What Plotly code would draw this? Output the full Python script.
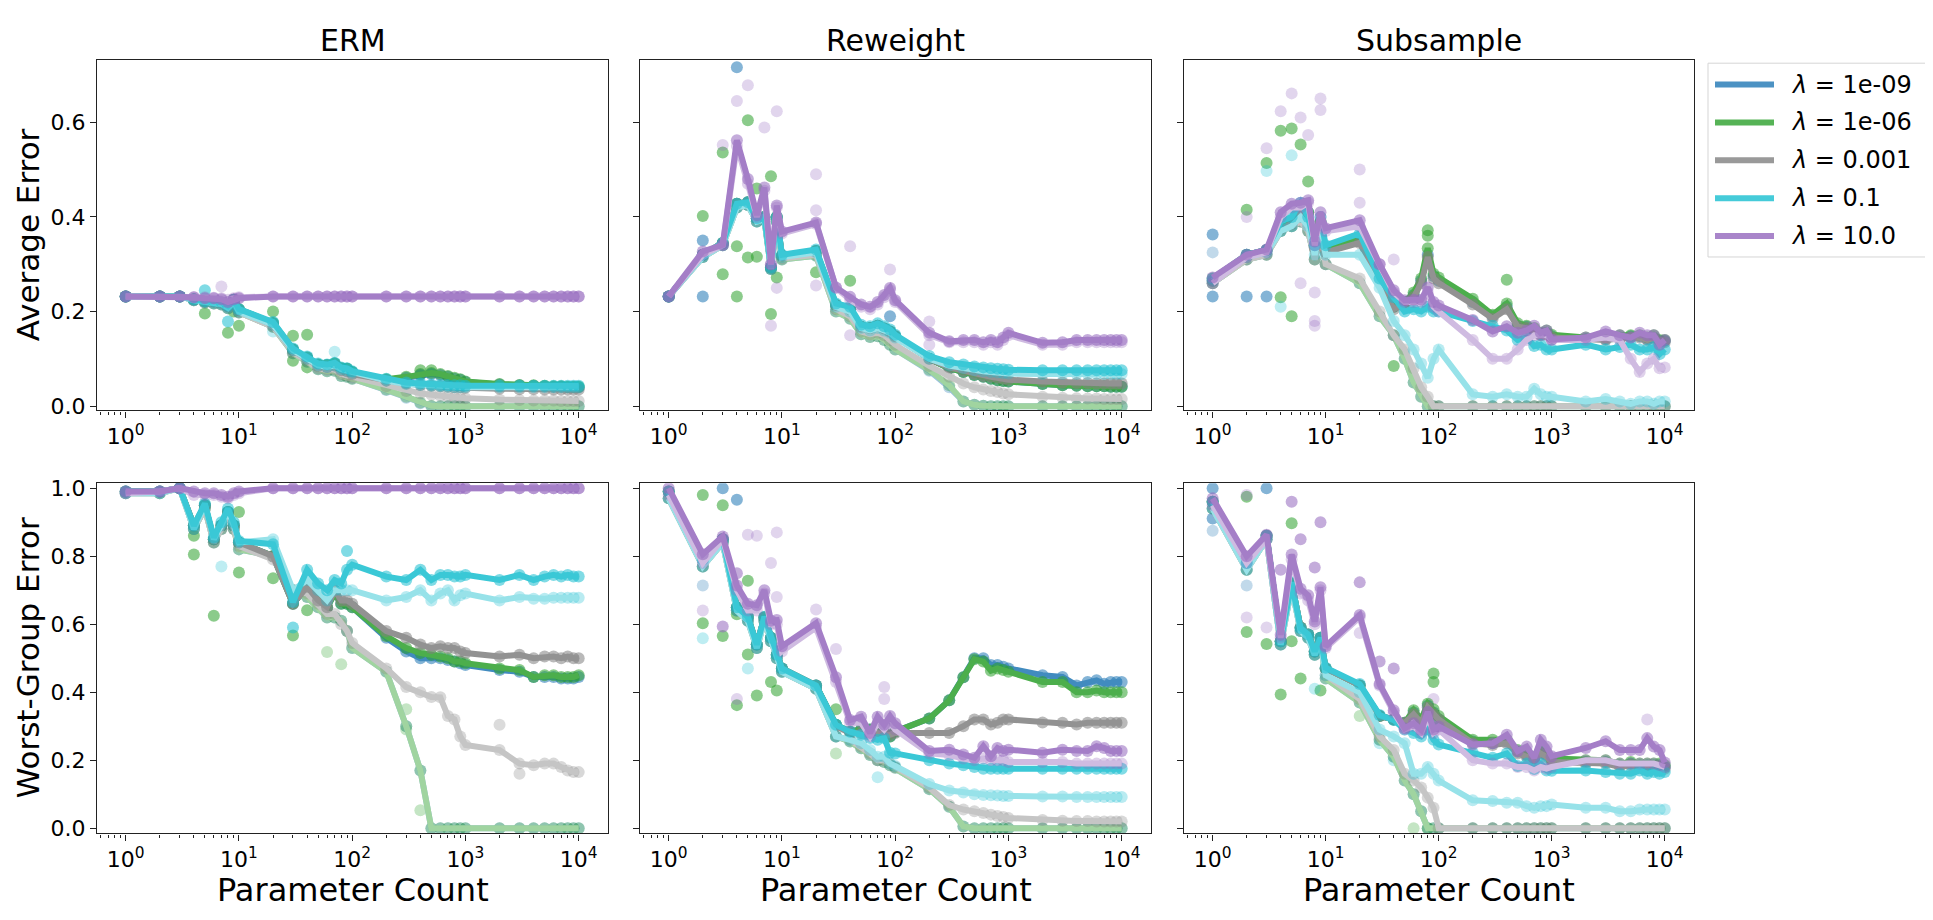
import plotly.graph_objects as go

# ---------------- data ----------------
X = [1, 2, 3, 4, 5, 6, 7, 8, 9, 10, 20, 30, 40, 50, 60, 70, 80, 90, 100,
     200, 300, 400, 500, 600, 700, 800, 900, 1000,
     2000, 3000, 4000, 5000, 6000, 7000, 8000, 9000, 10000]
METHODS = ["ERM", "Reweight", "Subsample"]
METRICS = ["Average Error", "Worst-Group Error"]
LAMBDAS = ["1e-09", "1e-06", "0.001", "0.1", "10.0"]
X_TICKS = [1, 10, 100, 1000, 10000]
X_TICKTEXT = ["10<sup>0</sup>", "10<sup>1</sup>", "10<sup>2</sup>", "10<sup>3</sup>", "10<sup>4</sup>"]
Y_TICKS_TOP = [0.0, 0.2, 0.4, 0.6]
Y_TICKS_BOTTOM = [0.0, 0.2, 0.4, 0.6, 0.8, 1.0]

# ERM - average error (test = dark line, train = light line)
erm_avg_test = {
    "1e-09": [0.232, 0.232, 0.232, 0.226, 0.222, 0.222, 0.220, 0.212, 0.225, 0.205, 0.176, 0.120, 0.103, 0.088, 0.087, 0.090, 0.080, 0.079, 0.072,
              0.056, 0.060, 0.066, 0.068, 0.066, 0.062, 0.058, 0.056, 0.051, 0.046, 0.044, 0.043, 0.042, 0.041, 0.041, 0.040, 0.040, 0.040],
    "1e-06": [0.232, 0.232, 0.232, 0.226, 0.222, 0.222, 0.220, 0.212, 0.225, 0.205, 0.176, 0.120, 0.103, 0.088, 0.087, 0.090, 0.080, 0.079, 0.072,
              0.057, 0.062, 0.068, 0.070, 0.068, 0.064, 0.060, 0.057, 0.052, 0.047, 0.045, 0.044, 0.043, 0.042, 0.042, 0.041, 0.041, 0.041],
    "0.001": [0.232, 0.232, 0.232, 0.225, 0.221, 0.220, 0.218, 0.210, 0.222, 0.202, 0.172, 0.118, 0.100, 0.085, 0.083, 0.086, 0.076, 0.074, 0.068,
              0.054, 0.048, 0.045, 0.043, 0.042, 0.041, 0.040, 0.040, 0.039, 0.037, 0.036, 0.036, 0.035, 0.035, 0.035, 0.035, 0.035, 0.035],
    "0.1":   [0.232, 0.232, 0.232, 0.226, 0.222, 0.222, 0.220, 0.212, 0.225, 0.205, 0.178, 0.122, 0.105, 0.090, 0.088, 0.092, 0.082, 0.080, 0.074,
              0.058, 0.050, 0.048, 0.046, 0.045, 0.044, 0.044, 0.044, 0.043, 0.043, 0.043, 0.043, 0.043, 0.043, 0.043, 0.043, 0.043, 0.043],
    "10.0":  [0.232, 0.232, 0.232, 0.230, 0.228, 0.228, 0.226, 0.220, 0.226, 0.228, 0.232, 0.232, 0.232, 0.232, 0.232, 0.232, 0.232, 0.232, 0.232,
              0.232, 0.232, 0.232, 0.232, 0.232, 0.232, 0.232, 0.232, 0.232, 0.232, 0.232, 0.232, 0.232, 0.232, 0.232, 0.232, 0.232, 0.232],
}
erm_avg_train = {
    "1e-09": [0.232, 0.232, 0.232, 0.224, 0.219, 0.217, 0.215, 0.207, 0.218, 0.198, 0.168, 0.112, 0.094, 0.078, 0.074, 0.075, 0.064, 0.062, 0.058,
              0.034, 0.018, 0.006, 0.000, 0.000, 0.000, 0.000, 0.000, 0.000, 0.000, 0.000, 0.000, 0.000, 0.000, 0.000, 0.000, 0.000, 0.000],
    "1e-06": [0.232, 0.232, 0.232, 0.224, 0.219, 0.217, 0.215, 0.207, 0.218, 0.198, 0.168, 0.112, 0.094, 0.078, 0.074, 0.075, 0.064, 0.062, 0.058,
              0.035, 0.020, 0.008, 0.001, 0.000, 0.000, 0.000, 0.000, 0.000, 0.000, 0.000, 0.000, 0.000, 0.000, 0.000, 0.000, 0.000, 0.000],
    "0.001": [0.232, 0.232, 0.232, 0.224, 0.219, 0.217, 0.215, 0.207, 0.218, 0.198, 0.168, 0.114, 0.096, 0.080, 0.077, 0.078, 0.068, 0.065, 0.060,
              0.042, 0.032, 0.027, 0.024, 0.022, 0.020, 0.019, 0.018, 0.017, 0.014, 0.013, 0.012, 0.012, 0.012, 0.011, 0.011, 0.011, 0.011],
    "0.1":   [0.232, 0.232, 0.232, 0.224, 0.220, 0.218, 0.216, 0.208, 0.220, 0.200, 0.172, 0.118, 0.100, 0.086, 0.083, 0.086, 0.078, 0.075, 0.070,
              0.054, 0.047, 0.045, 0.043, 0.042, 0.041, 0.040, 0.040, 0.040, 0.040, 0.040, 0.040, 0.040, 0.040, 0.040, 0.040, 0.040, 0.040],
    "10.0":  [0.232, 0.232, 0.232, 0.230, 0.230, 0.229, 0.228, 0.225, 0.228, 0.230, 0.232, 0.232, 0.232, 0.232, 0.232, 0.232, 0.232, 0.232, 0.232,
              0.232, 0.232, 0.232, 0.232, 0.232, 0.232, 0.232, 0.232, 0.232, 0.232, 0.232, 0.232, 0.232, 0.232, 0.232, 0.232, 0.232, 0.232],
}
# ERM - worst-group error
erm_wg_test = {
    "1e-09": [0.99, 0.99, 1.00, 0.89, 0.95, 0.85, 0.89, 0.93, 0.89, 0.84, 0.80, 0.66, 0.71, 0.67, 0.65, 0.69, 0.66, 0.66, 0.65,
              0.56, 0.52, 0.50, 0.50, 0.50, 0.495, 0.49, 0.485, 0.48, 0.465, 0.46, 0.445, 0.445, 0.445, 0.44, 0.44, 0.44, 0.445],
    "1e-06": [0.99, 0.99, 1.00, 0.89, 0.95, 0.85, 0.89, 0.93, 0.89, 0.84, 0.80, 0.66, 0.71, 0.67, 0.65, 0.69, 0.66, 0.66, 0.65,
              0.565, 0.53, 0.515, 0.51, 0.505, 0.50, 0.49, 0.49, 0.485, 0.47, 0.465, 0.445, 0.45, 0.45, 0.445, 0.445, 0.445, 0.45],
    "0.001": [0.99, 0.99, 1.00, 0.89, 0.95, 0.85, 0.89, 0.93, 0.89, 0.84, 0.80, 0.66, 0.71, 0.67, 0.65, 0.70, 0.67, 0.67, 0.66,
              0.58, 0.56, 0.54, 0.53, 0.535, 0.53, 0.53, 0.52, 0.515, 0.505, 0.51, 0.50, 0.505, 0.505, 0.50, 0.505, 0.50, 0.50],
    "0.1":   [0.99, 0.99, 1.00, 0.89, 0.955, 0.855, 0.90, 0.94, 0.90, 0.845, 0.835, 0.665, 0.76, 0.72, 0.70, 0.73, 0.72, 0.76, 0.775,
              0.74, 0.73, 0.76, 0.73, 0.745, 0.745, 0.74, 0.74, 0.745, 0.73, 0.745, 0.73, 0.74, 0.745, 0.74, 0.745, 0.74, 0.74],
    "10.0":  [0.99, 0.99, 1.00, 0.99, 0.985, 0.985, 0.98, 0.975, 0.985, 0.99, 1.00, 1.00, 1.00, 1.00, 1.00, 1.00, 1.00, 1.00, 1.00,
              1.00, 1.00, 1.00, 1.00, 1.00, 1.00, 1.00, 1.00, 1.00, 1.00, 1.00, 1.00, 1.00, 1.00, 1.00, 1.00, 1.00, 1.00],
}
erm_wg_train = {
    "1e-09": [0.985, 0.985, 1.00, 0.88, 0.94, 0.84, 0.88, 0.92, 0.88, 0.82, 0.80, 0.70, 0.68, 0.65, 0.62, 0.62, 0.61, 0.58, 0.53,
              0.46, 0.30, 0.17, 0.00, 0.00, 0.00, 0.00, 0.00, 0.00, 0.00, 0.00, 0.00, 0.00, 0.00, 0.00, 0.00, 0.00, 0.00],
    "1e-06": [0.985, 0.985, 1.00, 0.88, 0.94, 0.84, 0.88, 0.92, 0.88, 0.82, 0.80, 0.70, 0.68, 0.65, 0.62, 0.62, 0.61, 0.58, 0.53,
              0.46, 0.30, 0.17, 0.00, 0.00, 0.00, 0.00, 0.00, 0.00, 0.00, 0.00, 0.00, 0.00, 0.00, 0.00, 0.00, 0.00, 0.00],
    "0.001": [0.985, 0.985, 1.00, 0.88, 0.94, 0.84, 0.88, 0.92, 0.88, 0.83, 0.79, 0.70, 0.69, 0.66, 0.63, 0.63, 0.60, 0.58, 0.545,
              0.47, 0.415, 0.40, 0.386, 0.385, 0.33, 0.32, 0.27, 0.245, 0.23, 0.19, 0.185, 0.19, 0.19, 0.18, 0.17, 0.165, 0.165],
    "0.1":   [0.985, 0.985, 1.00, 0.88, 0.95, 0.85, 0.89, 0.93, 0.89, 0.84, 0.85, 0.70, 0.73, 0.70, 0.67, 0.70, 0.70, 0.70, 0.70,
              0.67, 0.68, 0.70, 0.67, 0.69, 0.70, 0.67, 0.685, 0.69, 0.67, 0.68, 0.675, 0.675, 0.678, 0.678, 0.678, 0.678, 0.678],
    "10.0":  [0.985, 0.99, 1.00, 0.98, 0.98, 0.98, 0.975, 0.97, 0.98, 0.985, 1.00, 1.00, 1.00, 1.00, 1.00, 1.00, 1.00, 1.00, 1.00,
              1.00, 1.00, 1.00, 1.00, 1.00, 1.00, 1.00, 1.00, 1.00, 1.00, 1.00, 1.00, 1.00, 1.00, 1.00, 1.00, 1.00, 1.00],
}

# Reweight - average error
rw_avg_test = {
    "1e-09": [0.232, 0.32, 0.345, 0.428, 0.431, 0.397, 0.40, 0.293, 0.40, 0.318, 0.328, 0.214, 0.205, 0.168, 0.165, 0.170, 0.164, 0.158, 0.148,
              0.10, 0.080, 0.072, 0.066, 0.062, 0.058, 0.055, 0.053, 0.052, 0.047, 0.044, 0.043, 0.042, 0.042, 0.042, 0.041, 0.041, 0.041],
    "1e-06": [0.232, 0.32, 0.345, 0.428, 0.431, 0.397, 0.40, 0.293, 0.40, 0.318, 0.328, 0.214, 0.205, 0.168, 0.165, 0.170, 0.164, 0.158, 0.148,
              0.10, 0.080, 0.072, 0.066, 0.062, 0.058, 0.055, 0.053, 0.052, 0.047, 0.044, 0.043, 0.042, 0.042, 0.042, 0.041, 0.041, 0.041],
    "0.001": [0.232, 0.32, 0.345, 0.428, 0.431, 0.397, 0.40, 0.293, 0.40, 0.318, 0.328, 0.214, 0.205, 0.168, 0.165, 0.170, 0.164, 0.158, 0.148,
              0.10, 0.082, 0.075, 0.068, 0.064, 0.062, 0.060, 0.058, 0.056, 0.052, 0.050, 0.049, 0.049, 0.048, 0.048, 0.048, 0.048, 0.048],
    "0.1":   [0.232, 0.32, 0.345, 0.428, 0.431, 0.397, 0.40, 0.293, 0.40, 0.320, 0.331, 0.217, 0.210, 0.172, 0.169, 0.175, 0.169, 0.162, 0.151,
              0.106, 0.093, 0.088, 0.084, 0.082, 0.080, 0.079, 0.078, 0.077, 0.076, 0.076, 0.076, 0.076, 0.076, 0.076, 0.076, 0.076, 0.076],
    "10.0":  [0.232, 0.327, 0.341, 0.562, 0.480, 0.404, 0.462, 0.300, 0.424, 0.369, 0.388, 0.251, 0.231, 0.215, 0.210, 0.220, 0.235, 0.250, 0.224,
              0.155, 0.137, 0.140, 0.140, 0.135, 0.140, 0.135, 0.145, 0.155, 0.134, 0.135, 0.140, 0.140, 0.140, 0.140, 0.140, 0.140, 0.140],
}
rw_avg_train = {
    "1e-09": [0.232, 0.315, 0.34, 0.42, 0.425, 0.39, 0.395, 0.29, 0.39, 0.31, 0.318, 0.20, 0.185, 0.152, 0.146, 0.148, 0.14, 0.13, 0.12,
              0.075, 0.040, 0.010, 0.003, 0.001, 0.0, 0.0, 0.0, 0.0, 0.0, 0.0, 0.0, 0.0, 0.0, 0.0, 0.0, 0.0, 0.0],
    "1e-06": [0.232, 0.315, 0.34, 0.42, 0.425, 0.39, 0.395, 0.29, 0.39, 0.31, 0.318, 0.20, 0.185, 0.152, 0.146, 0.148, 0.14, 0.13, 0.12,
              0.077, 0.044, 0.010, 0.003, 0.001, 0.0, 0.0, 0.0, 0.0, 0.0, 0.0, 0.0, 0.0, 0.0, 0.0, 0.0, 0.0, 0.0],
    "0.001": [0.232, 0.315, 0.34, 0.42, 0.425, 0.39, 0.395, 0.29, 0.39, 0.312, 0.32, 0.205, 0.19, 0.158, 0.152, 0.155, 0.15, 0.14, 0.13,
              0.085, 0.062, 0.048, 0.040, 0.035, 0.032, 0.030, 0.027, 0.025, 0.020, 0.018, 0.017, 0.016, 0.016, 0.015, 0.015, 0.015, 0.015],
    "0.1":   [0.232, 0.315, 0.34, 0.42, 0.425, 0.39, 0.395, 0.29, 0.39, 0.315, 0.325, 0.21, 0.20, 0.165, 0.16, 0.165, 0.16, 0.155, 0.145,
              0.10, 0.086, 0.080, 0.076, 0.074, 0.072, 0.071, 0.070, 0.069, 0.068, 0.068, 0.068, 0.068, 0.068, 0.068, 0.068, 0.068, 0.068],
    "10.0":  [0.232, 0.32, 0.34, 0.55, 0.47, 0.40, 0.455, 0.30, 0.42, 0.365, 0.385, 0.25, 0.225, 0.21, 0.205, 0.215, 0.23, 0.245, 0.22,
              0.15, 0.135, 0.135, 0.135, 0.13, 0.135, 0.13, 0.14, 0.15, 0.13, 0.13, 0.135, 0.135, 0.135, 0.135, 0.135, 0.135, 0.135],
}
# Reweight - worst-group error
rw_wg_test = {
    "1e-09": [0.99, 0.79, 0.85, 0.65, 0.622, 0.54, 0.62, 0.56, 0.51, 0.47, 0.42, 0.304, 0.284, 0.29, 0.29, 0.28, 0.28, 0.27, 0.284,
              0.323, 0.376, 0.444, 0.50, 0.50, 0.48, 0.48, 0.475, 0.47, 0.45, 0.445, 0.42, 0.43, 0.435, 0.425, 0.43, 0.43, 0.43],
    "1e-06": [0.99, 0.79, 0.85, 0.65, 0.622, 0.54, 0.62, 0.56, 0.51, 0.47, 0.42, 0.304, 0.284, 0.29, 0.29, 0.28, 0.28, 0.27, 0.284,
              0.323, 0.376, 0.444, 0.497, 0.49, 0.463, 0.47, 0.465, 0.46, 0.43, 0.43, 0.40, 0.40, 0.405, 0.40, 0.40, 0.40, 0.40],
    "0.001": [0.99, 0.79, 0.85, 0.65, 0.62, 0.54, 0.62, 0.56, 0.51, 0.47, 0.42, 0.30, 0.28, 0.28, 0.28, 0.28, 0.275, 0.275, 0.28,
              0.28, 0.28, 0.30, 0.32, 0.32, 0.305, 0.31, 0.32, 0.32, 0.311, 0.31, 0.305, 0.31, 0.31, 0.31, 0.31, 0.31, 0.31],
    "0.1":   [0.99, 0.79, 0.85, 0.65, 0.622, 0.54, 0.622, 0.56, 0.51, 0.47, 0.42, 0.304, 0.284, 0.275, 0.265, 0.26, 0.265, 0.222, 0.22,
              0.20, 0.19, 0.185, 0.18, 0.175, 0.175, 0.175, 0.175, 0.175, 0.175, 0.175, 0.175, 0.175, 0.175, 0.175, 0.175, 0.175, 0.175],
    "10.0":  [1.00, 0.806, 0.858, 0.714, 0.66, 0.656, 0.70, 0.61, 0.612, 0.535, 0.603, 0.444, 0.318, 0.328, 0.28, 0.328, 0.304, 0.33, 0.309,
              0.227, 0.231, 0.217, 0.207, 0.241, 0.212, 0.236, 0.227, 0.231, 0.222, 0.231, 0.227, 0.227, 0.241, 0.236, 0.227, 0.227, 0.227],
}
rw_wg_train = {
    "1e-09": [0.97, 0.77, 0.84, 0.64, 0.61, 0.53, 0.61, 0.55, 0.50, 0.46, 0.41, 0.27, 0.255, 0.235, 0.215, 0.20, 0.195, 0.185, 0.178,
              0.115, 0.063, 0.005, 0.0, 0.0, 0.0, 0.0, 0.0, 0.0, 0.0, 0.0, 0.0, 0.0, 0.0, 0.0, 0.0, 0.0, 0.0],
    "1e-06": [0.97, 0.77, 0.84, 0.64, 0.61, 0.53, 0.61, 0.55, 0.50, 0.46, 0.41, 0.27, 0.255, 0.235, 0.215, 0.20, 0.195, 0.185, 0.178,
              0.115, 0.063, 0.005, 0.0, 0.0, 0.0, 0.0, 0.0, 0.0, 0.0, 0.0, 0.0, 0.0, 0.0, 0.0, 0.0, 0.0, 0.0],
    "0.001": [0.97, 0.77, 0.84, 0.64, 0.61, 0.53, 0.61, 0.55, 0.50, 0.46, 0.41, 0.27, 0.26, 0.24, 0.22, 0.20, 0.20, 0.19, 0.18,
              0.12, 0.068, 0.055, 0.05, 0.045, 0.04, 0.036, 0.033, 0.03, 0.024, 0.022, 0.021, 0.021, 0.02, 0.02, 0.02, 0.02, 0.02],
    "0.1":   [0.97, 0.77, 0.84, 0.64, 0.61, 0.53, 0.61, 0.55, 0.50, 0.46, 0.41, 0.27, 0.26, 0.25, 0.23, 0.21, 0.21, 0.19, 0.183,
              0.13, 0.111, 0.105, 0.10, 0.098, 0.097, 0.096, 0.095, 0.095, 0.093, 0.093, 0.092, 0.092, 0.092, 0.092, 0.092, 0.092, 0.092],
    "10.0":  [0.98, 0.78, 0.85, 0.70, 0.64, 0.64, 0.69, 0.60, 0.60, 0.52, 0.59, 0.43, 0.31, 0.31, 0.27, 0.31, 0.29, 0.31, 0.29,
              0.22, 0.215, 0.205, 0.20, 0.205, 0.20, 0.20, 0.20, 0.195, 0.195, 0.195, 0.19, 0.19, 0.19, 0.19, 0.19, 0.19, 0.19],
}

# Subsample - average error
ss_avg_test = {
    "1e-09": [0.265, 0.32, 0.33, 0.38, 0.39, 0.415, 0.41, 0.34, 0.39, 0.33, 0.35, 0.27, 0.21, 0.22, 0.235, 0.265, 0.32, 0.275, 0.265,
              0.22, 0.19, 0.21, 0.17, 0.168, 0.16, 0.152, 0.155, 0.148, 0.142, 0.142, 0.145, 0.148, 0.148, 0.142, 0.145, 0.138, 0.138],
    "1e-06": [0.27, 0.32, 0.33, 0.38, 0.39, 0.41, 0.41, 0.34, 0.39, 0.33, 0.355, 0.272, 0.21, 0.22, 0.24, 0.27, 0.334, 0.28, 0.272,
              0.227, 0.193, 0.217, 0.175, 0.17, 0.165, 0.155, 0.16, 0.151, 0.145, 0.145, 0.15, 0.15, 0.15, 0.145, 0.15, 0.14, 0.14],
    "0.001": [0.265, 0.315, 0.33, 0.375, 0.385, 0.41, 0.405, 0.335, 0.385, 0.325, 0.345, 0.265, 0.205, 0.215, 0.23, 0.26, 0.315, 0.27, 0.26,
              0.215, 0.185, 0.205, 0.168, 0.165, 0.16, 0.15, 0.152, 0.145, 0.14, 0.14, 0.143, 0.145, 0.145, 0.14, 0.143, 0.135, 0.135],
    "0.1":   [0.27, 0.32, 0.33, 0.39, 0.40, 0.43, 0.40, 0.34, 0.40, 0.34, 0.365, 0.27, 0.23, 0.20, 0.205, 0.20, 0.21, 0.20, 0.20,
              0.18, 0.17, 0.16, 0.14, 0.145, 0.127, 0.13, 0.12, 0.12, 0.13, 0.12, 0.125, 0.13, 0.12, 0.12, 0.125, 0.11, 0.12],
    "10.0":  [0.272, 0.32, 0.331, 0.41, 0.428, 0.43, 0.435, 0.348, 0.41, 0.376, 0.393, 0.30, 0.245, 0.224, 0.225, 0.225, 0.251, 0.22, 0.213,
              0.182, 0.158, 0.169, 0.155, 0.16, 0.17, 0.155, 0.16, 0.141, 0.145, 0.158, 0.15, 0.145, 0.155, 0.15, 0.15, 0.13, 0.14],
}
ss_avg_train = {
    "1e-09": [0.26, 0.31, 0.32, 0.37, 0.38, 0.39, 0.37, 0.31, 0.36, 0.30, 0.26, 0.19, 0.15, 0.10, 0.05, 0.02, 0.0, 0.0, 0.0,
              0.0, 0.0, 0.0, 0.0, 0.0, 0.0, 0.0, 0.0, 0.0, 0.0, 0.0, 0.0, 0.0, 0.0, 0.0, 0.0, 0.0, 0.0],
    "1e-06": [0.26, 0.31, 0.32, 0.37, 0.38, 0.39, 0.37, 0.31, 0.36, 0.30, 0.26, 0.19, 0.15, 0.10, 0.05, 0.02, 0.0, 0.0, 0.0,
              0.0, 0.0, 0.0, 0.0, 0.0, 0.0, 0.0, 0.0, 0.0, 0.0, 0.0, 0.0, 0.0, 0.0, 0.0, 0.0, 0.0, 0.0],
    "0.001": [0.26, 0.31, 0.32, 0.37, 0.38, 0.39, 0.37, 0.31, 0.36, 0.30, 0.27, 0.20, 0.15, 0.12, 0.08, 0.04, 0.02, 0.0, 0.0,
              0.0, 0.0, 0.0, 0.0, 0.0, 0.0, 0.0, 0.0, 0.0, 0.0, 0.0, 0.0, 0.0, 0.0, 0.0, 0.0, 0.0, 0.0],
    "0.1":   [0.265, 0.315, 0.325, 0.37, 0.38, 0.40, 0.38, 0.32, 0.37, 0.32, 0.32, 0.25, 0.18, 0.15, 0.12, 0.09, 0.06, 0.10, 0.12,
              0.025, 0.02, 0.025, 0.02, 0.02, 0.037, 0.025, 0.02, 0.02, 0.01, 0.015, 0.01, 0.005, 0.01, 0.01, 0.005, 0.01, 0.01],
    "10.0":  [0.26, 0.315, 0.325, 0.40, 0.42, 0.42, 0.43, 0.34, 0.40, 0.37, 0.38, 0.30, 0.24, 0.22, 0.22, 0.22, 0.24, 0.21, 0.20,
              0.14, 0.10, 0.10, 0.12, 0.14, 0.15, 0.15, 0.15, 0.14, 0.14, 0.145, 0.14, 0.10, 0.072, 0.09, 0.10, 0.08, 0.082],
}
# Subsample - worst-group error
ss_wg_test = {
    "1e-09": [0.96, 0.78, 0.86, 0.55, 0.72, 0.59, 0.57, 0.52, 0.56, 0.47, 0.42, 0.33, 0.32, 0.31, 0.34, 0.31, 0.36, 0.34, 0.32,
              0.255, 0.25, 0.255, 0.225, 0.215, 0.205, 0.225, 0.215, 0.20, 0.195, 0.195, 0.185, 0.19, 0.185, 0.185, 0.185, 0.185, 0.18],
    "1e-06": [0.96, 0.78, 0.86, 0.55, 0.72, 0.59, 0.57, 0.52, 0.56, 0.47, 0.42, 0.33, 0.32, 0.31, 0.347, 0.32, 0.366, 0.35, 0.33,
              0.26, 0.26, 0.26, 0.23, 0.22, 0.21, 0.23, 0.22, 0.205, 0.20, 0.20, 0.19, 0.195, 0.19, 0.19, 0.19, 0.19, 0.185],
    "0.001": [0.96, 0.78, 0.86, 0.55, 0.72, 0.59, 0.57, 0.52, 0.56, 0.47, 0.42, 0.33, 0.32, 0.31, 0.335, 0.31, 0.355, 0.335, 0.32,
              0.25, 0.245, 0.25, 0.22, 0.21, 0.20, 0.22, 0.21, 0.195, 0.19, 0.19, 0.18, 0.185, 0.18, 0.18, 0.18, 0.18, 0.175],
    "0.1":   [0.96, 0.78, 0.86, 0.55, 0.723, 0.588, 0.57, 0.52, 0.56, 0.472, 0.424, 0.333, 0.318, 0.29, 0.28, 0.27, 0.29, 0.26, 0.246,
              0.222, 0.207, 0.22, 0.183, 0.19, 0.174, 0.19, 0.17, 0.169, 0.17, 0.165, 0.16, 0.16, 0.17, 0.16, 0.165, 0.16, 0.165],
    "10.0":  [0.97, 0.80, 0.863, 0.569, 0.805, 0.704, 0.685, 0.608, 0.709, 0.535, 0.627, 0.424, 0.347, 0.294, 0.309, 0.289, 0.342, 0.29, 0.299,
              0.246, 0.25, 0.275, 0.227, 0.24, 0.207, 0.26, 0.24, 0.212, 0.236, 0.256, 0.23, 0.23, 0.23, 0.265, 0.24, 0.23, 0.193],
}
ss_wg_train = {
    "1e-09": [0.94, 0.76, 0.85, 0.54, 0.71, 0.58, 0.56, 0.51, 0.55, 0.44, 0.37, 0.26, 0.21, 0.14, 0.10, 0.05, 0.0, 0.0, 0.0,
              0.0, 0.0, 0.0, 0.0, 0.0, 0.0, 0.0, 0.0, 0.0, 0.0, 0.0, 0.0, 0.0, 0.0, 0.0, 0.0, 0.0, 0.0],
    "1e-06": [0.94, 0.76, 0.85, 0.54, 0.71, 0.58, 0.56, 0.51, 0.55, 0.44, 0.37, 0.26, 0.21, 0.14, 0.10, 0.05, 0.0, 0.0, 0.0,
              0.0, 0.0, 0.0, 0.0, 0.0, 0.0, 0.0, 0.0, 0.0, 0.0, 0.0, 0.0, 0.0, 0.0, 0.0, 0.0, 0.0, 0.0],
    "0.001": [0.94, 0.76, 0.85, 0.54, 0.71, 0.58, 0.56, 0.51, 0.55, 0.45, 0.38, 0.27, 0.23, 0.16, 0.14, 0.12, 0.09, 0.06, 0.0,
              0.0, 0.0, 0.0, 0.0, 0.0, 0.0, 0.0, 0.0, 0.0, 0.0, 0.0, 0.0, 0.0, 0.0, 0.0, 0.0, 0.0, 0.0],
    "0.1":   [0.94, 0.76, 0.85, 0.54, 0.71, 0.58, 0.56, 0.51, 0.55, 0.45, 0.40, 0.29, 0.27, 0.25, 0.16, 0.16, 0.18, 0.16, 0.14,
              0.082, 0.08, 0.075, 0.075, 0.065, 0.06, 0.065, 0.065, 0.07, 0.06, 0.06, 0.05, 0.05, 0.055, 0.055, 0.055, 0.055, 0.055],
    "10.0":  [0.95, 0.78, 0.85, 0.56, 0.79, 0.69, 0.67, 0.60, 0.70, 0.53, 0.62, 0.42, 0.34, 0.29, 0.30, 0.28, 0.33, 0.28, 0.29,
              0.20, 0.19, 0.19, 0.18, 0.18, 0.17, 0.18, 0.175, 0.18, 0.20, 0.20, 0.19, 0.19, 0.19, 0.19, 0.19, 0.185, 0.18],
}

# individual-seed points that lie away from the mean curves: (x, y, lambda index, dark?)
erm_avg_pts_x = [5, 5, 7, 8, 8, 9, 10, 20, 20, 30, 30, 40, 40, 70, 400, 500]
erm_avg_pts_y = [0.196, 0.245, 0.253, 0.155, 0.179, 0.20, 0.17, 0.20, 0.158, 0.096, 0.149, 0.151, 0.082, 0.115, 0.076, 0.076]
erm_avg_pts_l = [1, 3, 4, 1, 3, 1, 1, 1, 3, 1, 1, 1, 1, 3, 1, 1]
erm_avg_pts_d = [1, 1, 0, 1, 1, 1, 1, 1, 0, 1, 1, 1, 1, 0, 1, 1]

rw_avg_pts_x = [2, 2, 2, 3, 3, 3, 4, 4, 4, 4, 5, 5, 5, 6, 6, 7, 8, 8, 8, 9, 9, 9, 20, 20, 20, 20, 40, 40, 40, 90, 90, 200, 200]
rw_avg_pts_y = [0.402, 0.35, 0.232, 0.552, 0.536, 0.279, 0.716, 0.645, 0.338, 0.232, 0.678, 0.604, 0.314, 0.46, 0.316, 0.589,
                0.195, 0.17, 0.486, 0.623, 0.272, 0.25, 0.49, 0.414, 0.283, 0.255, 0.338, 0.265, 0.15, 0.289, 0.19, 0.179, 0.13]
rw_avg_pts_l = [1, 0, 0, 4, 1, 1, 0, 4, 1, 1, 4, 1, 1, 1, 1, 4, 1, 4, 1, 4, 1, 4, 4, 4, 1, 4, 4, 1, 4, 4, 0, 4, 4]
rw_avg_pts_d = [1, 1, 1, 0, 1, 1, 1, 0, 1, 1, 0, 1, 1, 1, 1, 0, 1, 0, 1, 0, 1, 0, 0, 0, 1, 0, 0, 1, 0, 0, 1, 0, 0]

ss_avg_pts_x = [1, 1, 1, 2, 2, 2, 3, 3, 3, 3, 4, 4, 4, 4, 5, 5, 5, 5, 6, 6, 6, 7, 7, 8, 8, 8, 9, 9, 20, 20, 40, 40, 80, 80, 400]
ss_avg_pts_y = [0.363, 0.325, 0.232, 0.415, 0.40, 0.232, 0.514, 0.545, 0.232, 0.497, 0.582, 0.623, 0.23, 0.21, 0.587, 0.661,
                0.19, 0.53, 0.61, 0.553, 0.26, 0.573, 0.475, 0.17, 0.24, 0.18, 0.65, 0.626, 0.50, 0.43, 0.31, 0.085, 0.372, 0.36, 0.267]
ss_avg_pts_l = [0, 0, 0, 1, 4, 0, 1, 4, 0, 3, 1, 4, 1, 3, 1, 4, 1, 3, 4, 1, 4, 4, 1, 4, 4, 4, 4, 4, 4, 4, 4, 1, 1, 1, 1]
ss_avg_pts_d = [1, 0, 1, 1, 0, 1, 1, 0, 1, 0, 1, 0, 1, 0, 1, 0, 1, 0, 0, 1, 0, 0, 1, 0, 0, 0, 0, 0, 0, 0, 0, 1, 1, 1, 1]

erm_wg_pts_x = [4, 4, 6, 7, 10, 10, 20, 30, 30, 40, 60, 80, 90, 300, 300, 400, 2000, 3000]
erm_wg_pts_y = [0.805, 0.86, 0.625, 0.77, 0.752, 0.93, 0.735, 0.567, 0.59, 0.641, 0.518, 0.482, 0.815, 0.35, 0.29, 0.053, 0.304, 0.16]
erm_wg_pts_l = [1, 1, 1, 3, 1, 1, 1, 1, 3, 1, 1, 1, 3, 1, 1, 1, 2, 2]
erm_wg_pts_d = [1, 1, 1, 0, 1, 1, 1, 1, 1, 1, 0, 0, 1, 0, 0, 0, 0, 0]

rw_wg_pts_x = [2, 2, 2, 2, 2, 3, 3, 3, 3, 4, 4, 4, 4, 4, 5, 5, 5, 5, 6, 6, 8, 8, 9, 9, 9, 20, 30, 30, 30, 80, 80, 70]
rw_wg_pts_y = [0.603, 0.559, 0.64, 0.714, 0.98, 1.0, 0.95, 0.593, 0.565, 0.966, 0.362, 0.38, 0.629, 0.75, 0.728, 0.863, 0.511,
               0.47, 0.39, 0.86, 0.43, 0.78, 0.405, 0.68, 0.87, 0.643, 0.527, 0.35, 0.22, 0.415, 0.38, 0.15]
rw_wg_pts_l = [1, 3, 4, 0, 1, 0, 1, 4, 1, 0, 1, 4, 1, 4, 1, 4, 1, 3, 1, 4, 1, 4, 1, 4, 4, 4, 4, 1, 1, 4, 4, 3]
rw_wg_pts_d = [1, 0, 0, 0, 1, 1, 1, 1, 1, 1, 1, 0, 1, 1, 1, 0, 1, 0, 1, 0, 1, 0, 1, 0, 0, 0, 0, 1, 0, 0, 0, 0]

ss_wg_pts_x = [1, 1, 1, 2, 2, 2, 2, 2, 3, 3, 3, 4, 4, 5, 5, 5, 6, 6, 8, 8, 9, 9, 20, 20, 20, 30, 30, 40, 40, 60, 80, 90, 90, 90, 7000]
ss_wg_pts_y = [1.0, 0.911, 0.875, 0.98, 0.975, 0.577, 0.62, 0.714, 1.0, 0.542, 0.59, 0.393, 0.76, 0.897, 0.96, 0.55, 0.44, 0.85,
               0.767, 0.41, 0.405, 0.90, 0.723, 0.574, 0.33, 0.49, 0.25, 0.47, 0.20, 0.0, 0.0, 0.455, 0.43, 0.38, 0.32]
ss_wg_pts_l = [0, 0, 0, 4, 1, 1, 4, 0, 0, 1, 4, 1, 4, 1, 4, 1, 1, 4, 4, 3, 1, 4, 4, 4, 1, 4, 3, 4, 3, 1, 1, 1, 1, 4, 4]
ss_wg_pts_d = [1, 1, 0, 0, 1, 1, 0, 0, 1, 1, 0, 1, 1, 1, 1, 1, 1, 1, 1, 0, 1, 1, 1, 0, 0, 1, 0, 1, 0, 0, 0, 1, 1, 0, 0]

# ---------------- styling ----------------
COLORS = [(31, 119, 180), (44, 160, 44), (127, 127, 127), (23, 190, 207), (148, 103, 189)]
FONT = "DejaVu Sans"
W, H = 1933, 920
PANEL_X = [(89, 600), (632, 1143), (1176, 1686)]
PANEL_Y = [(46, 402), (476, 832)]
X_RANGE = [-0.2534, 4.2587]
Y_RANGES = [[-0.009, 0.731], [-0.0153, 1.0145]]
MINOR = [0.6, 0.7, 0.8, 0.9] + [m * 10 ** k for k in range(4) for m in range(2, 10)]


def rgba(c, a):
    return "rgba(%d,%d,%d,%s)" % (c[0], c[1], c[2], a)


def blend(c, a):
    # colour c at alpha a over white, as an opaque colour
    return "rgb(%d,%d,%d)" % tuple(round(a * v + (1 - a) * 255) for v in c)


panels = [
    [(erm_avg_test, erm_avg_train, erm_avg_pts_x, erm_avg_pts_y, erm_avg_pts_l, erm_avg_pts_d),
     (rw_avg_test, rw_avg_train, rw_avg_pts_x, rw_avg_pts_y, rw_avg_pts_l, rw_avg_pts_d),
     (ss_avg_test, ss_avg_train, ss_avg_pts_x, ss_avg_pts_y, ss_avg_pts_l, ss_avg_pts_d)],
    [(erm_wg_test, erm_wg_train, erm_wg_pts_x, erm_wg_pts_y, erm_wg_pts_l, erm_wg_pts_d),
     (rw_wg_test, rw_wg_train, rw_wg_pts_x, rw_wg_pts_y, rw_wg_pts_l, rw_wg_pts_d),
     (ss_wg_test, ss_wg_train, ss_wg_pts_x, ss_wg_pts_y, ss_wg_pts_l, ss_wg_pts_d)],
]

fig = go.Figure()
layout = dict(
    width=W, height=H, margin=dict(l=0, r=0, t=0, b=0),
    paper_bgcolor="white", plot_bgcolor="white", showlegend=False,
    font=dict(family=FONT, color="black"),
)


def px2fx(v):
    return v / W


def py2fy(v):
    return 1 - v / H


MS = 12
for r in range(2):
    for c in range(3):
        idx = r * 3 + c
        suf = "" if idx == 0 else str(idx + 1)
        xa, ya = "x" + suf, "y" + suf
        test, train, px, py, pl, pd = panels[r][c]
        # seed outliers
        for lam_i in range(5):
            for dark in (0, 1):
                sx = [px[k] for k in range(len(px)) if pl[k] == lam_i and pd[k] == dark]
                sy = [py[k] for k in range(len(px)) if pl[k] == lam_i and pd[k] == dark]
                if sx:
                    fig.add_trace(go.Scatter(
                        x=sx, y=sy, mode="markers", xaxis=xa, yaxis=ya, hoverinfo="skip",
                        marker=dict(size=MS, color=rgba(COLORS[lam_i], 0.55 if dark else 0.28),
                                    line=dict(width=0))))
        for lam_i, lam in enumerate(LAMBDAS):
            col = COLORS[lam_i]
            fig.add_trace(go.Scatter(
                x=X, y=train[lam], mode="markers", xaxis=xa, yaxis=ya, hoverinfo="skip",
                marker=dict(size=MS, color=rgba(col, 0.3), line=dict(width=0))))
            fig.add_trace(go.Scatter(
                x=X, y=train[lam], mode="lines", xaxis=xa, yaxis=ya, hoverinfo="skip",
                line=dict(color=blend(col, 0.45), width=6)))
            fig.add_trace(go.Scatter(
                x=X, y=test[lam], mode="markers", xaxis=xa, yaxis=ya, hoverinfo="skip",
                marker=dict(size=MS, color=rgba(col, 0.55), line=dict(width=0))))
            fig.add_trace(go.Scatter(
                x=X, y=test[lam], mode="lines", xaxis=xa, yaxis=ya, hoverinfo="skip",
                line=dict(color=blend(col, 0.85), width=6)))

        x0, x1 = PANEL_X[c]
        y0, y1 = PANEL_Y[r]
        layout["xaxis" + suf] = dict(
            type="log", range=X_RANGE, domain=[px2fx(x0), px2fx(x1)], anchor=ya,
            showline=True, mirror=True, linecolor="#222", linewidth=1.3,
            showgrid=False, zeroline=False,
            tickmode="array", tickvals=X_TICKS, ticktext=X_TICKTEXT,
            ticks="outside", ticklen=6, tickwidth=1.1, tickcolor="#222",
            tickfont=dict(family=FONT, size=22, color="black"),
            minor=dict(tickmode="array", tickvals=MINOR, ticks="outside", ticklen=3.5,
                       tickwidth=1, tickcolor="#222", showgrid=False),
        )
        yt = Y_TICKS_TOP if r == 0 else Y_TICKS_BOTTOM
        layout["yaxis" + suf] = dict(
            range=Y_RANGES[r], domain=[py2fy(y1), py2fy(y0)], anchor=xa,
            showline=True, mirror=True, linecolor="#222", linewidth=1.3,
            showgrid=False, zeroline=False,
            tickmode="array", tickvals=yt, ticktext=["%.1f" % v for v in yt],
            showticklabels=(c == 0),
            ticks="outside", ticklen=6, tickwidth=1.1, tickcolor="#222",
            tickfont=dict(family=FONT, size=22, color="black"),
        )

fig.update_layout(**layout)

ann = []
for c, m in enumerate(METHODS):
    x0, x1 = PANEL_X[c]
    ann.append(dict(text=m, x=px2fx((x0 + x1) / 2), y=py2fy(26), xref="paper", yref="paper",
                    xanchor="center", yanchor="middle", showarrow=False,
                    font=dict(family=FONT, size=30, color="black")))
    ann.append(dict(text="Parameter Count", x=px2fx((x0 + x1) / 2), y=py2fy(889), xref="paper", yref="paper",
                    xanchor="center", yanchor="middle", showarrow=False,
                    font=dict(family=FONT, size=32, color="black")))
for r, m in enumerate(METRICS):
    y0, y1 = PANEL_Y[r]
    ann.append(dict(text=m, x=px2fx(20), y=py2fy((y0 + y1) / 2), xref="paper", yref="paper",
                    xanchor="center", yanchor="middle", textangle=-90, showarrow=False,
                    font=dict(family=FONT, size=31, color="black")))

# legend (drawn manually)
shapes = [dict(type="rect", xref="paper", yref="paper", x0=px2fx(1700), x1=px2fx(1919),
               y0=py2fy(246), y1=py2fy(49), line=dict(color="#d5d5d5", width=1), fillcolor="white", layer="above")]
LEG_Y = [70.7, 109.2, 147.7, 186.2, 224.7]
for i, lam in enumerate(LAMBDAS):
    shapes.append(dict(type="line", xref="paper", yref="paper", x0=px2fx(1707), x1=px2fx(1766),
                       y0=py2fy(LEG_Y[i]), y1=py2fy(LEG_Y[i]), layer="above",
                       line=dict(color=blend(COLORS[i], 0.8), width=6)))
    ann.append(dict(text="<i>λ</i> = " + lam, x=px2fx(1781), y=py2fy(LEG_Y[i]), xref="paper", yref="paper",
                    xanchor="left", yanchor="middle", showarrow=False,
                    font=dict(family=FONT, size=24, color="black")))

fig.update_layout(annotations=ann, shapes=shapes)
fig.write_html("out.html")
